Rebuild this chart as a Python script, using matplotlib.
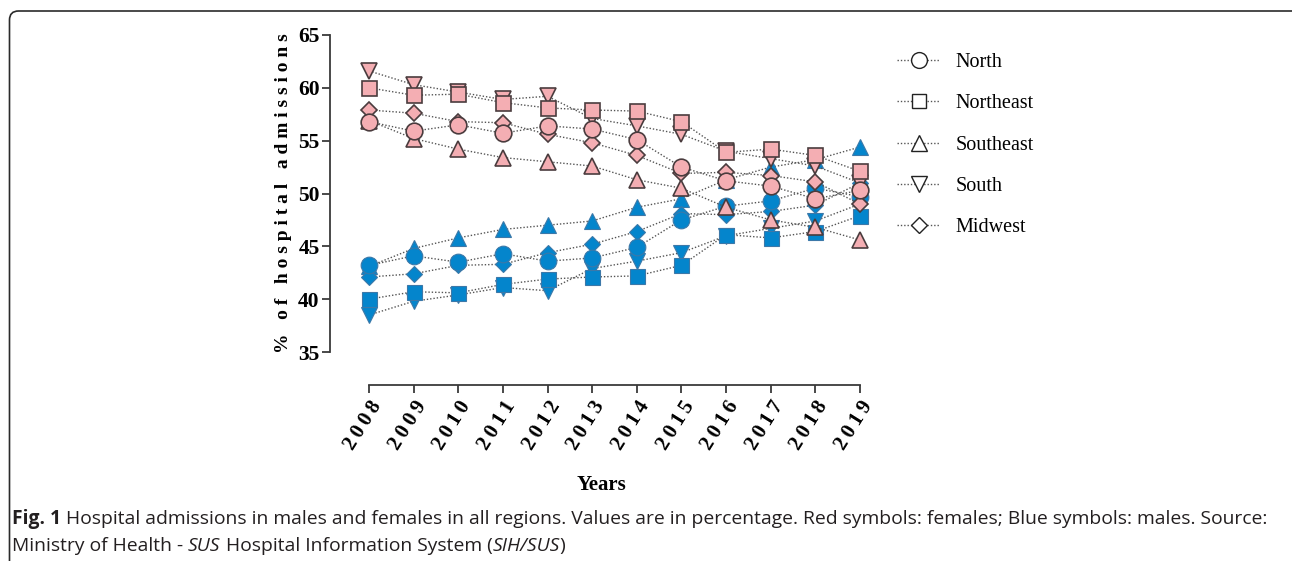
import matplotlib
matplotlib.use("Agg")
import matplotlib.pyplot as plt
from matplotlib.lines import Line2D
from matplotlib.patches import FancyBboxPatch
from matplotlib.transforms import IdentityTransform

# ---------------- data ----------------
years = [2008, 2009, 2010, 2011, 2012, 2013, 2014, 2015, 2016, 2017, 2018, 2019]
regions = ["North", "Northeast", "Southeast", "South", "Midwest"]

north_f = [56.8, 55.9, 56.5, 55.7, 56.4, 56.1, 55.1, 52.5, 51.2, 50.7, 49.5, 50.3]
north_m = [43.2, 44.1, 43.5, 44.3, 43.6, 43.9, 44.9, 47.5, 48.8, 49.3, 50.5, 49.7]
northeast_f = [60.0, 59.3, 59.4, 58.6, 58.1, 57.9, 57.8, 56.8, 53.9, 54.2, 53.6, 52.1]
northeast_m = [40.0, 40.7, 40.6, 41.4, 41.9, 42.1, 42.2, 43.2, 46.1, 45.8, 46.4, 47.9]
southeast_f = [56.9, 55.2, 54.2, 53.4, 53.0, 52.6, 51.3, 50.5, 48.7, 47.5, 46.8, 45.6]
southeast_m = [43.1, 44.8, 45.8, 46.6, 47.0, 47.4, 48.7, 49.5, 51.3, 52.5, 53.2, 54.4]
south_f = [61.6, 60.3, 59.6, 58.9, 59.2, 57.1, 56.4, 55.6, 54.0, 53.3, 52.6, 51.0]
south_m = [38.5, 39.8, 40.4, 41.1, 40.8, 42.9, 43.6, 44.4, 46.0, 46.7, 47.4, 49.0]
midwest_f = [57.9, 57.6, 56.8, 56.7, 55.6, 54.8, 53.6, 51.9, 52.0, 51.7, 51.1, 49.0]
midwest_m = [42.1, 42.4, 43.2, 43.3, 44.4, 45.2, 46.4, 48.1, 48.0, 48.3, 48.9, 51.0]

yticks = [35, 40, 45, 50, 55, 60, 65]

# ---------------- style ----------------
W, H, DPI = 1292, 561, 100
PINK, PINK_EDGE = "#F4AEB3", "#4A3C3E"
BLUE, BLUE_EDGE = "#0485CC", "#3C78A8"
SERIF = ["Liberation Serif", "DejaVu Serif"]

markers = {"North": ("o", 12.0), "Northeast": ("s", 10.8), "Southeast": ("^", 11.8),
           "South": ("v", 11.8), "Midwest": ("D", 8.2)}
female = {"North": north_f, "Northeast": northeast_f, "Southeast": southeast_f,
          "South": south_f, "Midwest": midwest_f}
male = {"North": north_m, "Northeast": northeast_m, "Southeast": southeast_m,
        "South": south_m, "Midwest": midwest_m}
draw_order = ["South", "Southeast", "Midwest", "Northeast", "North"]

fig = plt.figure(figsize=(W / DPI, H / DPI), dpi=DPI)

# axes: left spine at x=330px, y 35..65 between 352px and 35px
ax_left, ax_right, ax_top, ax_bot = 330, 860, 35, 352
ax = fig.add_axes([ax_left / W, (H - ax_bot) / H, (ax_right - ax_left) / W, (ax_bot - ax_top) / H])
ppy = (860 - 369) / 11.0
ax.set_xlim(2008 - (369 - ax_left) / ppy, 2019)
ax.set_ylim(35, 65)
ax.patch.set_alpha(0)

line_kw = dict(linestyle=(0, (1, 1.4)), color="#555555", linewidth=1.0)
for data, face, edge, ew in ((male, BLUE, BLUE_EDGE, 0.8), (female, PINK, PINK_EDGE, 1.2)):
    for r in draw_order:
        m, ms = markers[r]
        ax.plot(years, data[r], marker=m, markersize=ms, markerfacecolor=face,
                markeredgecolor=edge, markeredgewidth=ew, clip_on=False, zorder=3, **line_kw)

for s in ("top", "right"):
    ax.spines[s].set_visible(False)
for s in ("left", "bottom"):
    ax.spines[s].set_color("#3a3a3a")
    ax.spines[s].set_linewidth(1.3)
ax.spines["left"].set_bounds(35, 65)
ax.spines["bottom"].set_bounds(2008, 2019)
ax.spines["bottom"].set_position(("outward", 33 * 72 / DPI))

ax.set_yticks(yticks)
ax.set_yticklabels([str(t) for t in yticks], fontfamily=SERIF, fontweight="bold", fontsize=15.5)
ax.set_xticks(years)
ax.set_xticklabels(["\u2009".join(str(y)) for y in years], fontfamily=SERIF,
                   fontweight="bold", fontsize=15, rotation=58, ha="right", va="top",
                   rotation_mode="anchor")
ax.tick_params(axis="both", length=6, width=1.3, color="#3a3a3a")
ax.tick_params(axis="y", pad=1.5)
ax.tick_params(axis="x", pad=3)

# y label (letter spaced)
ylab = "   ".join(" ".join(w) for w in ["%", "of", "hospital", "admissions"])
fig.text(284 / W, (H - 193) / H, ylab, rotation=90, ha="center", va="center",
         fontfamily=SERIF, fontweight="bold", fontsize=14)
fig.text(601 / W, (H - 485) / H, "Years", ha="center", va="center",
         fontfamily=SERIF, fontweight="bold", fontsize=15)

# legend
handles = [Line2D([0], [0], marker=markers[r][0], markersize=markers[r][1] * 0.95,
                  markerfacecolor="white", markeredgecolor="#222222", markeredgewidth=1.0,
                  **line_kw) for r in regions]
fig.legend(handles, regions, loc="upper left", bbox_to_anchor=(897 / W, (H - 53) / H),
           frameon=False, prop={"family": SERIF, "size": 14.5}, handlelength=2.14,
           handletextpad=0.75, labelspacing=1.10, borderpad=0, borderaxespad=0)

# rounded frame
fig.add_artist(FancyBboxPatch((9.5, -30), 1320, H - 11 + 30, boxstyle="round,pad=0,rounding_size=9",
                              transform=IdentityTransform(), facecolor="none",
                              edgecolor="#2a2a2a", linewidth=1.2))

# caption
renderer = fig.canvas.get_renderer()
CAP = ["Open Sans", "DejaVu Sans"]


def write_line(segments, x0, y0, size):
    x = x0
    for txt, weight, style in segments:
        t = fig.text(x / W, (H - y0) / H, txt, ha="left", va="center", fontfamily=CAP,
                     fontsize=size, fontweight=weight, fontstyle=style, color="#231F20")
        bb = t.get_window_extent(renderer)
        x += bb.width
    return x


line1 = [("Fig. 1", "bold", "normal"),
         (" Hospital admissions in males and females in all regions. Values are in percentage. "
          "Red symbols: females; Blue symbols: males. Source:", "normal", "normal")]
line2 = [("Ministry of Health - ", "normal", "normal"), ("SUS", "normal", "italic"),
         (" Hospital Information System (", "normal", "normal"), ("SIH/SUS", "normal", "italic"),
         (")", "normal", "normal")]
size = 13.9
write_line(line1, 12, 519, size)
write_line(line2, 12, 546, size)

fig.savefig("out.png", dpi=DPI)
